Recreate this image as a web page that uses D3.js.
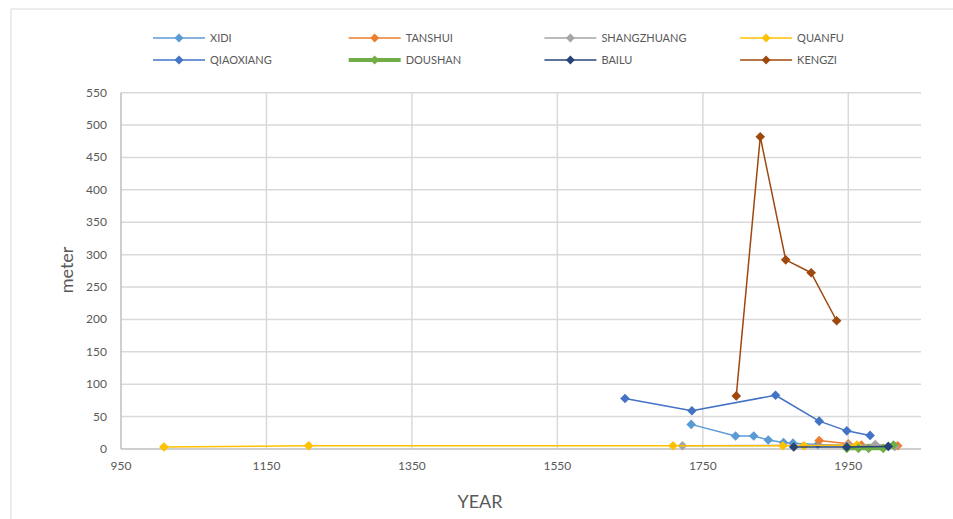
<!DOCTYPE html>
<html><head><meta charset="utf-8">
<script src="https://cdn.jsdelivr.net/npm/d3@7"></script>
<style>body{margin:0;background:#fff;} svg{display:block;font-family:Lato,"Open Sans",sans-serif;}</style>
</head><body><svg id="c" width="953" height="519"></svg>
<script>
const seriesNames = ["XIDI","TANSHUI","SHANGZHUANG","QUANFU","QIAOXIANG","DOUSHAN","BAILU","KENGZI"];
const seriesColors = ["#5B9BD5","#ED7D31","#A5A5A5","#FFC000","#4472C4","#70AD47","#264478","#9E480E"];
const xidi = [[1734,38],[1795,20],[1820,20],[1840,14],[1861,10],[1874,9],[1908,7],[1948,5]];
const tanshui = [[1910,13],[1950,8],[1968,6],[2018,5]];
const shangzhuang = [[1722,5],[1950,6],[1987,7],[2014,4]];
const quanfu = [[1009,3],[1208,5],[1709,5],[1860,5],[1889,5],[1962,6]];
const qiaoxiang = [[1643,78],[1735,59],[1850,83],[1910,43],[1948,28],[1980,21]];
const doushan = [[1948,1],[1964,1],[1978,1],[1998,1],[2012,6]];
const bailu = [[1875,3],[1948,3],[2005,4]];
const kengzi = [[1796,82],[1829,482],[1864,292],[1899,272],[1934,198]];
const seriesData = [xidi,tanshui,shangzhuang,quanfu,qiaoxiang,doushan,bailu,kengzi];
const xTicks = [950,1150,1350,1550,1750,1950];
const yTicks = [0,50,100,150,200,250,300,350,400,450,500,550];

const svg = d3.select("#c");
const x = d3.scaleLinear().domain([950,2050]).range([121,921]);
const y = d3.scaleLinear().domain([0,550]).range([449,92.7]);

// chart border
svg.append("path").attr("d","M11,530 L11,9 L960,9").attr("fill","none").attr("stroke","#d9d9d9").attr("stroke-width",1);

// gridlines
svg.append("g").selectAll("line").data(yTicks.filter(d=>d>0)).join("line")
  .attr("x1",121).attr("x2",921).attr("y1",d=>y(d)).attr("y2",d=>y(d))
  .attr("stroke","#d9d9d9").attr("stroke-width",1.5);
svg.append("g").selectAll("line").data(xTicks.filter(d=>d>950)).join("line")
  .attr("y1",92.7).attr("y2",449).attr("x1",d=>x(d)).attr("x2",d=>x(d))
  .attr("stroke","#d9d9d9").attr("stroke-width",1.5);
// axes lines
svg.append("line").attr("x1",121).attr("x2",121).attr("y1",92.7).attr("y2",449).attr("stroke","#bfbfbf").attr("stroke-width",1.5);
svg.append("line").attr("x1",121).attr("x2",921).attr("y1",449).attr("y2",449).attr("stroke","#bfbfbf").attr("stroke-width",1.5);

// tick labels
svg.append("g").selectAll("text").data(yTicks).join("text")
  .attr("x",107).attr("y",d=>y(d)+4).attr("text-anchor","end")
  .attr("font-size",12).attr("fill","#595959").text(d=>d);
svg.append("g").selectAll("text").data(xTicks).join("text")
  .attr("x",d=>x(d)).attr("y",470).attr("text-anchor","middle")
  .attr("font-size",12).attr("fill","#595959").text(d=>d);

// axis titles
svg.append("text").attr("transform","translate(73,270) rotate(-90)").attr("text-anchor","middle")
  .attr("font-size",18).attr("fill","#595959").text("meter");
svg.append("text").attr("x",480).attr("y",508).attr("text-anchor","middle")
  .attr("font-size",18).attr("fill","#595959").text("YEAR");

const line = d3.line().x(d=>x(d[0])).y(d=>y(d[1]));

seriesData.forEach((data,i)=>{
  const g = svg.append("g");
  const w = seriesNames[i]==="DOUSHAN" ? 4 : 1.5;
  g.append("path").datum(data).attr("d",line).attr("fill","none")
    .attr("stroke",seriesColors[i]).attr("stroke-width",w).attr("stroke-linejoin","round");
  g.selectAll("path.m").data(data).join("path").attr("class","m")
    .attr("d",d3.symbol().type(d3.symbolSquare).size(46))
    .attr("transform",d=>`translate(${x(d[0])},${y(d[1])}) rotate(45)`)
    .attr("fill",seriesColors[i]);
});

// legend
const lg = svg.append("g");
seriesNames.forEach((n,i)=>{
  const col = i%4, row = Math.floor(i/4);
  const lx = 153 + col*195.7, ly = 38 + row*22;
  const w = n==="DOUSHAN" ? 4 : 1.5;
  lg.append("line").attr("x1",lx).attr("x2",lx+52).attr("y1",ly).attr("y2",ly)
    .attr("stroke",seriesColors[i]).attr("stroke-width",w);
  lg.append("path").attr("d",d3.symbol().type(d3.symbolSquare).size(40))
    .attr("transform",`translate(${lx+26},${ly}) rotate(45)`).attr("fill",seriesColors[i]);
  lg.append("text").attr("x",lx+57).attr("y",ly+4).attr("font-size",11).attr("fill","#595959").text(n);
});
</script></body></html>
